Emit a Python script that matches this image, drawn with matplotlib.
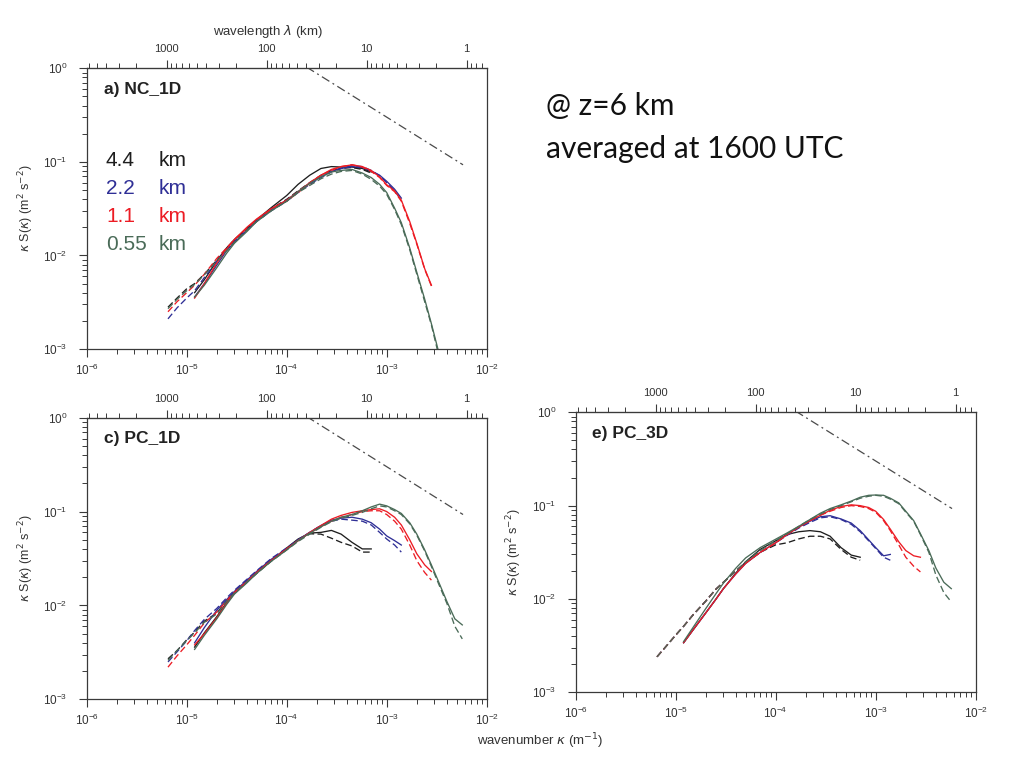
import numpy as np
import matplotlib
matplotlib.use("Agg")
import matplotlib.pyplot as plt
from matplotlib.ticker import LogLocator, FixedLocator, FixedFormatter, NullFormatter

plt.rcParams['font.family'] = ['Liberation Sans', 'DejaVu Sans']

# ---------------- data ----------------
# wavenumber grid (m^-1) shared by all curves
K = [6.5e-6, 8e-6, 1e-5, 1.2e-5, 1.5e-5, 2e-5, 2.5e-5, 3e-5, 4e-5, 5e-5, 7e-5,
     1e-4, 1.3e-4, 1.7e-4, 2.2e-4, 2.8e-4, 3.5e-4, 4.5e-4, 5.7e-4, 7e-4, 8.5e-4,
     1.0e-3, 1.2e-3, 1.4e-3, 1.7e-3, 2.0e-3, 2.4e-3, 2.8e-3, 3.4e-3, 4.0e-3,
     4.8e-3, 5.7e-3]
DASH_START = 0   # dashed curves start at K[0]
SOLID_START = 3  # solid curves start at K[3]

RESOLUTIONS = ["4.4", "2.2", "1.1", "0.55"]

# a) NC_1D
A_BLACK_D = [0.0028, 0.0035, 0.0044, 0.0050, 0.0063, 0.0089, 0.0117, 0.0145, 0.0191, 0.0234, 0.0316,
             0.0398, 0.049, 0.060, 0.072, 0.081, 0.085, 0.087, 0.083, 0.076]
A_BLACK_S = [0.0040, 0.0055, 0.0087, 0.0120, 0.0148, 0.0195, 0.024, 0.0324, 0.0437, 0.0575, 0.072,
             0.085, 0.089, 0.088, 0.088, 0.085, 0.078]
A_BLUE_D = [0.0021, 0.00275, 0.0035, 0.0042, 0.0058, 0.0087, 0.0115, 0.0141, 0.0186, 0.023, 0.030,
            0.038, 0.047, 0.0575, 0.068, 0.078, 0.085, 0.091, 0.089, 0.081, 0.071, 0.060, 0.049, 0.039]
A_BLUE_S = [0.0036, 0.0050, 0.0079, 0.0112, 0.0138, 0.0186, 0.0234, 0.031, 0.039, 0.048, 0.059,
            0.069, 0.079, 0.085, 0.089, 0.087, 0.080, 0.072, 0.062, 0.051, 0.041]
A_RED_D = [0.0025, 0.0032, 0.0040, 0.0048, 0.0063, 0.0093, 0.0120, 0.0148, 0.0195, 0.024, 0.031,
           0.038, 0.047, 0.059, 0.072, 0.081, 0.089, 0.093, 0.088, 0.079, 0.068, 0.056, 0.048, 0.038,
           0.022, 0.0132, 0.0071, 0.0047]
A_RED_S = [0.0035, 0.0050, 0.0083, 0.0117, 0.0148, 0.020, 0.0245, 0.0316, 0.039, 0.048, 0.060,
           0.072, 0.083, 0.089, 0.093, 0.089, 0.081, 0.069, 0.057, 0.049, 0.039, 0.023, 0.0135,
           0.0072, 0.0048]
A_GREEN_D = [0.0027, 0.0034, 0.0042, 0.0049, 0.0062, 0.0087, 0.0112, 0.0138, 0.0186, 0.023, 0.030,
             0.038, 0.047, 0.056, 0.066, 0.074, 0.079, 0.081, 0.074, 0.065, 0.055, 0.045, 0.031,
             0.0214, 0.0115, 0.0063, 0.0032, 0.0018, 0.00076]
A_GREEN_S = [0.0036, 0.0048, 0.0074, 0.0105, 0.0135, 0.018, 0.023, 0.030, 0.038, 0.048, 0.059,
             0.069, 0.078, 0.081, 0.083, 0.076, 0.068, 0.0575, 0.047, 0.032, 0.0224, 0.012, 0.0066,
             0.0034, 0.00186, 0.00083]

# c) PC_1D
C_BLACK_D = [0.0027, 0.0033, 0.0043, 0.0052, 0.0068, 0.0083, 0.0112, 0.0138, 0.0178, 0.0219, 0.030,
             0.040, 0.050, 0.058, 0.0575, 0.052, 0.047, 0.043, 0.037, 0.037]
C_BLACK_S = [0.0036, 0.0051, 0.0076, 0.0107, 0.0135, 0.0178, 0.0224, 0.030, 0.041, 0.051, 0.059,
             0.060, 0.063, 0.0575, 0.047, 0.040, 0.040]
C_BLUE_D = [0.0025, 0.0032, 0.0042, 0.0054, 0.0071, 0.0093, 0.012, 0.0145, 0.019, 0.0234, 0.0316,
            0.041, 0.050, 0.060, 0.071, 0.079, 0.083, 0.081, 0.079, 0.072, 0.060, 0.051, 0.044, 0.037]
C_BLUE_S = [0.0040, 0.0058, 0.0089, 0.0115, 0.0141, 0.0186, 0.023, 0.031, 0.040, 0.050, 0.060,
            0.071, 0.081, 0.085, 0.087, 0.083, 0.076, 0.065, 0.055, 0.049, 0.044]
C_RED_D = [0.0022, 0.0029, 0.0038, 0.0048, 0.0065, 0.0085, 0.0112, 0.0138, 0.018, 0.0224, 0.030,
           0.040, 0.049, 0.059, 0.069, 0.079, 0.087, 0.093, 0.100, 0.102, 0.102, 0.093, 0.079, 0.065,
           0.044, 0.030, 0.0224, 0.0186]
C_RED_S = [0.0038, 0.0050, 0.0074, 0.0105, 0.0135, 0.0178, 0.0224, 0.030, 0.040, 0.049, 0.060,
           0.071, 0.083, 0.091, 0.098, 0.102, 0.105, 0.107, 0.100, 0.087, 0.072, 0.050, 0.0355,
           0.027, 0.023]
C_GREEN_D = [0.0026, 0.0033, 0.0042, 0.0051, 0.0066, 0.0081, 0.011, 0.0135, 0.0178, 0.0219, 0.0295,
             0.039, 0.048, 0.0575, 0.068, 0.078, 0.085, 0.091, 0.098, 0.107, 0.115, 0.112, 0.102,
             0.093, 0.074, 0.056, 0.038, 0.026, 0.0158, 0.0105, 0.0060, 0.0044]
C_GREEN_S = [0.0034, 0.0048, 0.0072, 0.0102, 0.0132, 0.0174, 0.0219, 0.0295, 0.039, 0.049, 0.059,
             0.069, 0.079, 0.087, 0.093, 0.102, 0.112, 0.120, 0.115, 0.105, 0.0955, 0.076, 0.0575,
             0.039, 0.027, 0.0166, 0.011, 0.0072, 0.0062]

# e) PC_3D
E_BLACK_D = [0.0024, 0.0031, 0.0041, 0.0051, 0.0068, 0.0095, 0.0126, 0.0151, 0.020, 0.0245, 0.0316,
             0.038, 0.040, 0.044, 0.047, 0.047, 0.044, 0.034, 0.028, 0.026]
E_BLACK_S = [0.0034, 0.0047, 0.0071, 0.0098, 0.0129, 0.019, 0.025, 0.034, 0.042, 0.049, 0.0525,
             0.054, 0.0525, 0.047, 0.0355, 0.0295, 0.028]
E_BLUE_D = [0.0024, 0.0031, 0.0041, 0.0051, 0.0068, 0.0095, 0.0126, 0.0151, 0.020, 0.0245, 0.0316,
            0.040, 0.048, 0.0575, 0.066, 0.074, 0.076, 0.071, 0.063, 0.0525, 0.042, 0.0347, 0.028, 0.026]
E_BLUE_S = [0.0034, 0.0047, 0.0071, 0.0098, 0.0129, 0.0186, 0.024, 0.0316, 0.040, 0.049, 0.059,
            0.068, 0.076, 0.078, 0.072, 0.065, 0.054, 0.043, 0.0355, 0.029, 0.030]
E_RED_D = [0.0024, 0.0031, 0.0041, 0.0051, 0.0068, 0.0095, 0.0126, 0.0151, 0.020, 0.0245, 0.0316,
           0.040, 0.049, 0.059, 0.069, 0.079, 0.087, 0.0955, 0.100, 0.098, 0.093, 0.085, 0.069, 0.054,
           0.038, 0.028, 0.0224, 0.0195]
E_RED_S = [0.0034, 0.0047, 0.0071, 0.0098, 0.0129, 0.0186, 0.024, 0.0316, 0.040, 0.049, 0.059,
           0.069, 0.079, 0.089, 0.098, 0.102, 0.100, 0.0955, 0.087, 0.071, 0.056, 0.041, 0.033,
           0.029, 0.028]
E_GREEN_D = [0.0024, 0.0031, 0.0041, 0.0051, 0.0068, 0.0095, 0.0126, 0.0151, 0.020, 0.025, 0.033,
             0.042, 0.050, 0.060, 0.071, 0.081, 0.091, 0.100, 0.110, 0.120, 0.126, 0.129, 0.126,
             0.1175, 0.105, 0.085, 0.068, 0.049, 0.0316, 0.018, 0.0117, 0.0093]
E_GREEN_S = [0.0035, 0.0050, 0.0079, 0.0112, 0.0148, 0.0214, 0.0275, 0.0355, 0.0437, 0.051, 0.060,
             0.071, 0.083, 0.093, 0.102, 0.112, 0.123, 0.129, 0.130, 0.129, 0.120, 0.107, 0.087,
             0.069, 0.050, 0.033, 0.0214, 0.0151, 0.0129]

# -5/3 reference line (kappa * S ~ kappa^-2/3)
REF_K = [1.58e-4, 5.8e-3]
REF_V = [1.03, 0.093]

PANELS = [
    ("a) NC_1D", [(A_BLACK_D, A_BLACK_S), (A_BLUE_D, A_BLUE_S), (A_RED_D, A_RED_S), (A_GREEN_D, A_GREEN_S)]),
    ("c) PC_1D", [(C_BLACK_D, C_BLACK_S), (C_BLUE_D, C_BLUE_S), (C_RED_D, C_RED_S), (C_GREEN_D, C_GREEN_S)]),
    ("e) PC_3D", [(E_BLACK_D, E_BLACK_S), (E_BLUE_D, E_BLUE_S), (E_RED_D, E_RED_S), (E_GREEN_D, E_GREEN_S)]),
]

COLORS = ["#1e1e1e", "#2f2f96", "#ec1c24", "#4a6b58"]

W, H = 1024, 768
fig = plt.figure(figsize=(W / 100, H / 100), dpi=100)
fig.patch.set_facecolor("white")


def px_axes(x0, y_top, x1, y_bot):
    return fig.add_axes([x0 / W, 1 - y_bot / H, (x1 - x0) / W, (y_bot - y_top) / H])


axes_boxes = [(86.7, 68.3, 486.7, 349.0), (86.7, 417.7, 486.7, 699.3), (575.7, 412.3, 975.7, 692.3)]


def k2lam(k):
    k = np.asarray(k, dtype=float)
    with np.errstate(divide="ignore", invalid="ignore"):
        return 2 * np.pi / k / 1000.0


def lam2k(lam):
    lam = np.asarray(lam, dtype=float)
    with np.errstate(divide="ignore", invalid="ignore"):
        return 2 * np.pi / (lam * 1000.0)


karr = np.array(K)
spine_c = "#3a3a3a"
for (title, curves), box in zip(PANELS, axes_boxes):
    ax = px_axes(*box)
    for color, (vd, vs) in zip(COLORS, curves):
        kd = karr[DASH_START:DASH_START + len(vd)]
        ks = karr[SOLID_START:SOLID_START + len(vs)]
        ax.plot(kd, vd, color=color, lw=0.95, ls=(0, (5, 2.5)))
        ax.plot(ks, vs, color=color, lw=0.95, ls="-")
    ax.plot(REF_K, REF_V, color="#4a4a4a", lw=0.9, ls=(0, (7, 3, 1.5, 3)), clip_on=True)
    ax.set_xscale("log")
    ax.set_yscale("log")
    ax.set_xlim(1e-6, 1e-2)
    ax.set_ylim(1e-3, 1e0)
    ax.xaxis.set_major_locator(LogLocator(base=10, numticks=10))
    ax.xaxis.set_minor_locator(LogLocator(base=10, subs=np.arange(2, 10), numticks=20))
    ax.yaxis.set_major_locator(LogLocator(base=10, numticks=10))
    ax.yaxis.set_minor_locator(LogLocator(base=10, subs=np.arange(2, 10), numticks=20))
    ax.xaxis.set_minor_formatter(NullFormatter())
    ax.yaxis.set_minor_formatter(NullFormatter())
    ax.tick_params(axis="both", which="major", direction="out", length=6, width=0.8,
                   labelsize=8.5, color=spine_c, labelcolor="#333333")
    ax.tick_params(axis="both", which="minor", direction="out", length=3.5, width=0.7, color=spine_c)
    ax.tick_params(axis="y", which="major", pad=8)
    ax.tick_params(axis="x", which="major", pad=4)
    ax.tick_params(top=False, right=False, which="both")
    for s in ax.spines.values():
        s.set_color(spine_c)
        s.set_linewidth(0.9)

    ax.text(0.042, 0.925, title, transform=ax.transAxes, fontsize=12.5, fontweight="bold",
            color="#222222", va="center", ha="left")
    ax.set_ylabel(r"$\kappa$ S($\kappa$) (m$^2$ s$^{-2}$)", fontsize=9, color="#333333")
    ax.yaxis.set_label_coords(-0.128, 0.5)

    sec = ax.secondary_xaxis("top", functions=(k2lam, lam2k))
    sec.xaxis.set_major_locator(FixedLocator([1000, 100, 10, 1]))
    sec.xaxis.set_major_formatter(FixedFormatter(["1000", "100", "10", "1"]))
    sec.xaxis.set_minor_locator(LogLocator(base=10, subs=np.arange(2, 10), numticks=20))
    sec.xaxis.set_minor_formatter(NullFormatter())
    sec.tick_params(axis="x", which="major", direction="out", length=6, width=0.8,
                    labelsize=8, color=spine_c, labelcolor="#333333", pad=4)
    sec.tick_params(axis="x", which="minor", direction="out", length=3.5, width=0.7, color=spine_c)
    sec.spines["top"].set_color(spine_c)

# legend-like labels in panel a
leg_y = [160, 188, 216, 245]
for res, color, y in zip(RESOLUTIONS, COLORS, leg_y):
    fig.text(106 / W, 1 - y / H, res, fontsize=15, color=color, va="center", ha="left")
    fig.text(159 / W, 1 - y / H, "km", fontsize=15, color=color, va="center", ha="left")

fig.text(268 / W, 1 - 31 / H, r"wavelength $\lambda$ (km)", fontsize=9.5, color="#333333",
         ha="center", va="center")
fig.text(540 / W, 1 - 741 / H, r"wavenumber $\kappa$ (m$^{-1}$)", fontsize=9.5, color="#333333",
         ha="center", va="center")

fig.text(546 / W, 1 - 106 / H, "@ z=6 km", fontsize=21.5, family=["Lato", "DejaVu Sans"],
         color="#111111", ha="left", va="center")
fig.text(546 / W, 1 - 149 / H, "averaged at 1600 UTC", fontsize=21.5, family=["Lato", "DejaVu Sans"],
         color="#111111", ha="left", va="center")

fig.savefig("out.png", dpi=100, facecolor="white")
